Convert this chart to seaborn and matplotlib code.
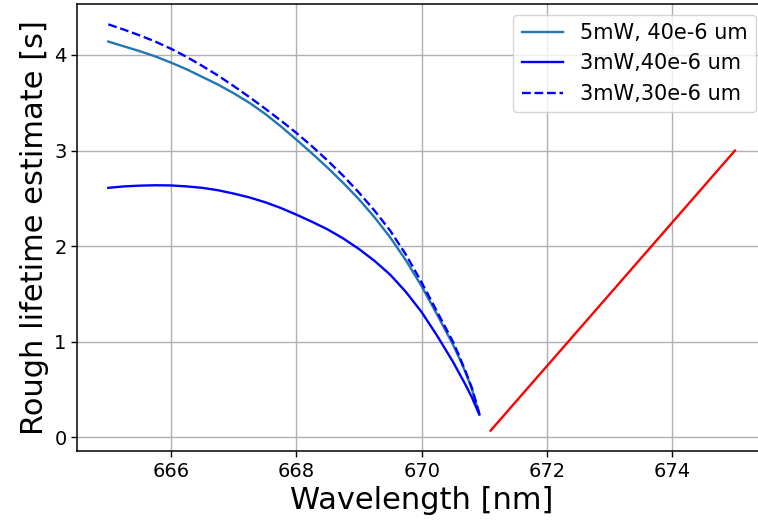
import matplotlib
matplotlib.use("Agg")
import matplotlib.pyplot as plt
import seaborn as sns
import pandas as pd

# Wavelength samples [nm] for the three lifetime curves
wavelength = [665.0, 665.25, 665.5, 665.75, 666.0, 666.25, 666.5, 666.75,
              667.0, 667.25, 667.5, 667.75, 668.0, 668.25, 668.5, 668.75,
              669.0, 669.25, 669.5, 669.75, 670.0, 670.25, 670.5, 670.6,
              670.7, 670.8, 670.92]

# Rough lifetime estimate [s]
life_5mW_40 = [4.14, 4.09, 4.04, 3.985, 3.92, 3.85, 3.77, 3.69,
               3.60, 3.50, 3.385, 3.255, 3.115, 2.97, 2.82, 2.66,
               2.49, 2.30, 2.09, 1.85, 1.58, 1.28, 0.97, 0.83,
               0.68, 0.51, 0.24]
life_3mW_40 = [2.61, 2.625, 2.633, 2.637, 2.635, 2.625, 2.61, 2.585,
               2.55, 2.51, 2.46, 2.40, 2.33, 2.255, 2.175, 2.08,
               1.97, 1.845, 1.70, 1.52, 1.31, 1.06, 0.79, 0.67,
               0.55, 0.42, 0.24]
life_3mW_30 = [4.32, 4.265, 4.205, 4.14, 4.065, 3.98, 3.885, 3.785,
               3.675, 3.56, 3.44, 3.315, 3.185, 3.045, 2.895, 2.735,
               2.56, 2.37, 2.16, 1.91, 1.62, 1.31, 1.00, 0.85,
               0.69, 0.52, 0.25]

# Red line
red_x = [671.1, 675.0]
red_y = [0.07, 3.0]

labels = ["5mW, 40e-6 um", "3mW,40e-6 um", "3mW,30e-6 um"]

fig = plt.figure(figsize=(7.58, 5.30), dpi=100)
ax = fig.add_axes([77.0 / 758, 78.8 / 530, 689.3 / 758, 446.9 / 530])

df1 = pd.DataFrame({"x": wavelength, "y": life_5mW_40})
df2 = pd.DataFrame({"x": wavelength, "y": life_3mW_40})
df3 = pd.DataFrame({"x": wavelength, "y": life_3mW_30})
df4 = pd.DataFrame({"x": red_x, "y": red_y})

sns.lineplot(data=df1, x="x", y="y", ax=ax, color="#1f77b4", lw=1.7,
             label=labels[0], sort=False, estimator=None)
sns.lineplot(data=df2, x="x", y="y", ax=ax, color="blue", lw=1.7,
             label=labels[1], sort=False, estimator=None)
sns.lineplot(data=df3, x="x", y="y", ax=ax, color="blue", lw=1.7,
             linestyle="--", label=labels[2], sort=False, estimator=None)
sns.lineplot(data=df4, x="x", y="y", ax=ax, color="red", lw=1.7,
             sort=False, estimator=None)

ax.set_xlim(664.5, 675.5)
ax.set_ylim(-0.145, 4.53)
ax.set_xticks([666, 668, 670, 672, 674])
ax.set_yticks([0, 1, 2, 3, 4])
ax.grid(True, color="#b0b0b0", lw=1.0)
ax.set_axisbelow(True)
ax.tick_params(labelsize=14, width=1.0, length=4)
for s in ax.spines.values():
    s.set_linewidth(1.1)
ax.spines["right"].set_visible(False)
ax.set_xlabel("Wavelength [nm]", fontsize=22)
ax.set_ylabel("Rough lifetime estimate [s]", fontsize=22)
ax.legend(loc="upper right", fontsize=15)

fig.savefig("out.png", dpi=100)
